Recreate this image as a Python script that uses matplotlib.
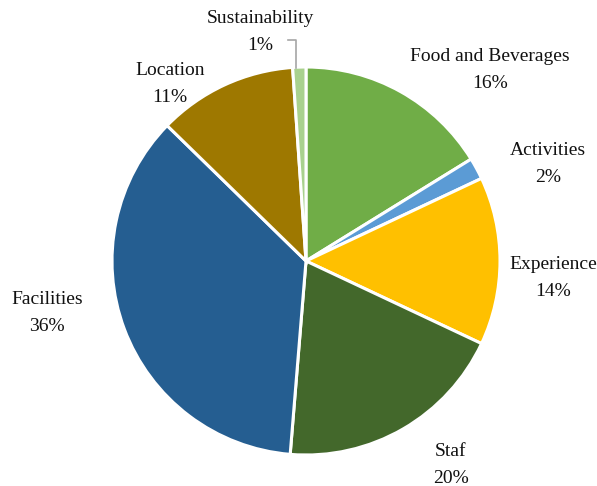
import matplotlib.pyplot as plt

# Slice data (clockwise from the top)
categories = ['Food and Beverages', 'Activities', 'Experience', 'Staf',
              'Facilities', 'Location', 'Sustainability']
values = [16.2, 1.8, 14.0, 19.3, 36.0, 11.6, 1.1]
pct_labels = ['16%', '2%', '14%', '20%', '36%', '11%', '1%']
colors = ['#70AD47', '#5B9BD5', '#FFC000', '#43682B',
          '#255E91', '#9E7800', '#A9D18E']

# Label centres in pixel coordinates (x, y from top)
label_pos = [(490, 70), (548, 164), (553, 278), (451, 465),
             (47, 313), (170, 84), (260, 32)]

W, H = 597, 486
fig = plt.figure(figsize=(W / 100, H / 100), dpi=100)
ax = fig.add_axes([0, 0, 1, 1])

cx, cy, r = 306, H - 261, 194
ax.pie(values, colors=colors, startangle=90, counterclock=False,
       center=(cx, cy), radius=r, frame=True,
       wedgeprops=dict(edgecolor='white', linewidth=2.2))
ax.set_xlim(0, W)
ax.set_ylim(0, H)
ax.axis('off')

for name, pct, (x, y) in zip(categories, pct_labels, label_pos):
    ax.text(x, H - y, name + '\n' + pct, ha='center', va='center',
            fontsize=14, family='Liberation Serif', color='#111111',
            linespacing=1.75)

# leader line for the tiny Sustainability slice
ax.plot([288, 296, 296], [H - 40, H - 40, H - 68], color='#A6A6A6', lw=1.2)

fig.savefig('out.png', dpi=100)
